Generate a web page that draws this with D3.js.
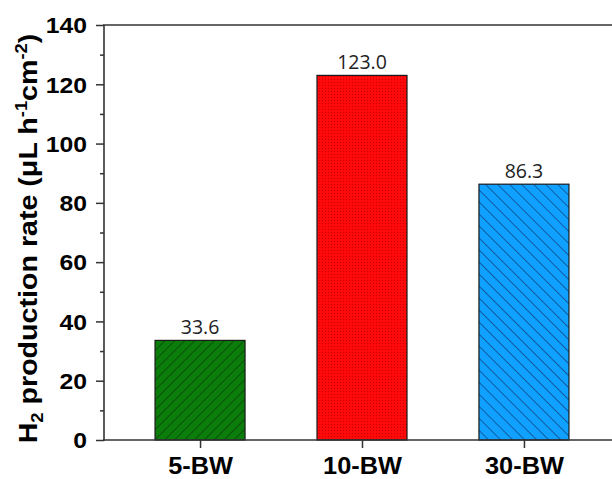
<!DOCTYPE html>
<html><head><meta charset="utf-8">
<script src="https://cdn.jsdelivr.net/npm/d3@7"></script>
<style>body{margin:0;background:#fff}svg{display:block}</style>
</head><body>
<svg id="c" width="612" height="479"></svg>
<script>
const categories = ["5-BW", "10-BW", "30-BW"];
const values = [33.6, 123.0, 86.3];
const valueLabels = ["33.6", "123.0", "86.3"];
const yTicks = [0, 20, 40, 60, 80, 100, 120, 140];
const yMinorTicks = [10, 30, 50, 70, 90, 110, 130];

const svg = d3.select("#c");
const mLeft = 104, mRight = 620, mTop = 25, mBottom = 440;
const x = d3.scalePoint().domain(categories).range([mLeft, mRight]).padding(0.593);
const y = d3.scaleLinear().domain([0, 140]).range([mBottom, mTop]);
const barW = 90;

const defs = svg.append("defs");
// green hatch "/"
const pg = defs.append("pattern").attr("id", "pGreen").attr("patternUnits", "userSpaceOnUse")
  .attr("width", 7).attr("height", 7).attr("patternTransform", "rotate(45)");
pg.append("rect").attr("width", 7).attr("height", 7).attr("fill", "#0a7d0a");
pg.append("line").attr("x1", 0).attr("y1", 0).attr("x2", 0).attr("y2", 7).attr("stroke", "#0d2a0d").attr("stroke-width", 1.1);
// red dots
const pr = defs.append("pattern").attr("id", "pRed").attr("patternUnits", "userSpaceOnUse")
  .attr("width", 3).attr("height", 3);
pr.append("rect").attr("width", 3).attr("height", 3).attr("fill", "#ff0a0a");
pr.append("rect").attr("x", 1).attr("y", 1).attr("width", 1).attr("height", 1).attr("fill", "#c80000");
// blue hatch "\"
const pb = defs.append("pattern").attr("id", "pBlue").attr("patternUnits", "userSpaceOnUse")
  .attr("width", 8.5).attr("height", 8.5).attr("patternTransform", "rotate(-45)");
pb.append("rect").attr("width", 8.5).attr("height", 8.5).attr("fill", "#10a0ff");
pb.append("line").attr("x1", 0).attr("y1", 0).attr("x2", 0).attr("y2", 8.5).attr("stroke", "#0b2a55").attr("stroke-width", 1.1);
const fills = ["url(#pGreen)", "url(#pRed)", "url(#pBlue)"];

// bars
svg.selectAll("rect.bar").data(values).join("rect").attr("class", "bar")
  .attr("x", (d, i) => x(categories[i]) - barW / 2)
  .attr("y", d => y(d))
  .attr("width", barW)
  .attr("height", d => y(0) - y(d))
  .attr("fill", (d, i) => fills[i])
  .attr("stroke", "#1a1a1a").attr("stroke-width", 1.2);

// value labels
svg.selectAll("text.val").data(values).join("text").attr("class", "val")
  .attr("x", (d, i) => x(categories[i]))
  .attr("y", d => y(d) - 6)
  .attr("text-anchor", "middle")
  .attr("font-family", "'Open Sans', sans-serif").attr("font-size", 19.5)
  .attr("fill", "#222")
  .text((d, i) => valueLabels[i]);

const axisColor = "#333";
// y axis
const yAxis = d3.axisLeft(y).tickValues(yTicks).tickSize(8).tickPadding(9).tickFormat(d3.format("d"));
const gy = svg.append("g").attr("transform", `translate(${mLeft},0)`).call(yAxis);
gy.select(".domain").remove();
gy.selectAll(".tick line").attr("stroke", axisColor).attr("stroke-width", 1.5);
gy.selectAll(".tick text").attr("font-family", "'Liberation Sans', Arial, sans-serif")
  .attr("font-weight", "bold").attr("font-size", 21.5).attr("fill", "#000")
  .attr("dy", "0.36em")
  .attr("transform", function(){ const xx = +d3.select(this).attr("x"); return `translate(${xx},0) scale(1.15,1) translate(${-xx},0)`; });
const yMinor = d3.axisLeft(y).tickValues(yMinorTicks).tickSize(4).tickFormat("");
const gym = svg.append("g").attr("transform", `translate(${mLeft},0)`).call(yMinor);
gym.select(".domain").remove();
gym.selectAll(".tick line").attr("stroke", axisColor).attr("stroke-width", 1.5);

// x axis
const xAxis = d3.axisBottom(x).tickSize(8).tickPadding(9);
const gx = svg.append("g").attr("transform", `translate(0,${mBottom})`).call(xAxis);
gx.select(".domain").remove();
gx.selectAll(".tick line").attr("stroke", axisColor).attr("stroke-width", 1.5);
gx.selectAll(".tick text").attr("font-family", "'Liberation Sans', Arial, sans-serif")
  .attr("font-weight", "bold").attr("font-size", 23.5).attr("fill", "#000")
  .attr("dy", "0.71em")
  .attr("transform", "scale(1.08,1)");

// frame lines
svg.append("line").attr("x1", mLeft).attr("x2", mLeft).attr("y1", mTop).attr("y2", mBottom + 1)
  .attr("stroke", axisColor).attr("stroke-width", 1.6);
svg.append("line").attr("x1", mLeft - 1).attr("x2", mRight).attr("y1", mBottom).attr("y2", mBottom)
  .attr("stroke", axisColor).attr("stroke-width", 1.6);
svg.append("line").attr("x1", mLeft - 1).attr("x2", mRight).attr("y1", mTop).attr("y2", mTop)
  .attr("stroke", axisColor).attr("stroke-width", 1.6);

// y title
const t = svg.append("text")
  .attr("transform", `translate(37,${(mTop + mBottom) / 2 + 6}) rotate(-90) scale(1.08,1)`)
  .attr("text-anchor", "middle")
  .attr("font-family", "'Liberation Sans', Arial, sans-serif")
  .attr("font-weight", "bold").attr("font-size", 26.5).attr("fill", "#000");
t.append("tspan").text("H");
t.append("tspan").attr("font-size", 17).attr("dy", 6).text("2");
t.append("tspan").attr("dy", -6).text(" production rate (μL h");
t.append("tspan").attr("font-size", 17).attr("dy", -10).text("-1");
t.append("tspan").attr("dy", 10).text("cm");
t.append("tspan").attr("font-size", 17).attr("dy", -10).text("-2");
t.append("tspan").attr("dy", 10).text(")");
</script>
</body></html>
